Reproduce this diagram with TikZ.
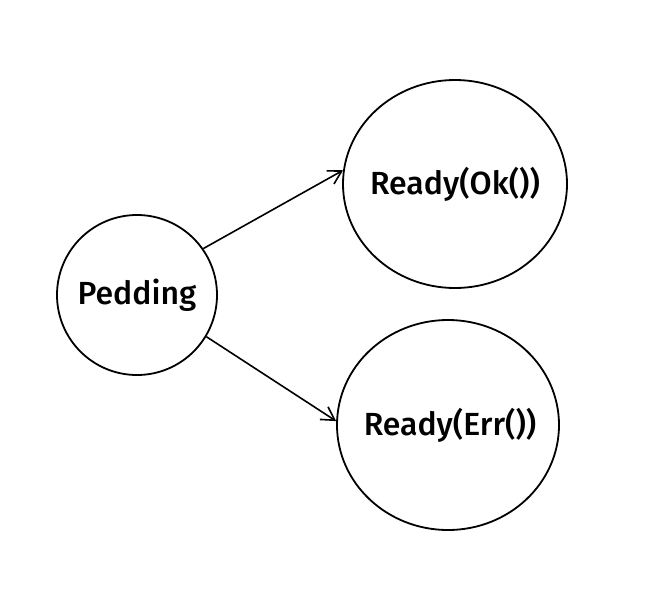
\documentclass[tikz,border=0pt]{standalone}
\usepackage{fontspec}
\setmainfont{Fira Sans}[UprightFont=* Medium]
\usetikzlibrary{shapes.geometric,arrows.meta}
\begin{document}
\begin{tikzpicture}[x=1pt,y=-1pt,
  state/.style={ellipse,draw=black,line width=1.8pt,inner sep=0pt,fill=white,
    font=\fontsize{32}{36}\selectfont},
  link/.style={draw=black,line width=1.6pt,-{Straight Barb[length=13pt,width=15pt,line width=1.6pt]}}]
\useasboundingbox (0,0) rectangle (650,608);
\node[state,minimum width=160pt,minimum height=160pt] (p) at (137,295) {\makebox[0pt]{Pedding}};
\node[state,minimum width=224pt,minimum height=208pt] (ok) at (455,184) {\makebox[0pt]{Ready(Ok())}};
\node[state,minimum width=222pt,minimum height=210pt] (err) at (448,425) {\makebox[0pt]{\hspace{4pt}Ready(Err())}};
\draw[link] (p.35) -- (ok.173);
\draw[link] (p.-31) -- (err.178);
\end{tikzpicture}
\end{document}
